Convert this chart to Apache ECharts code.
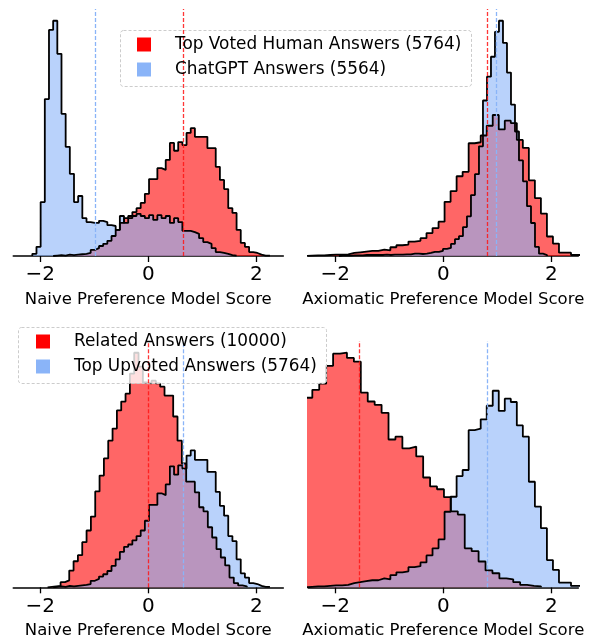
<!DOCTYPE html>
<html>
<head>
<meta charset="utf-8">
<title>Preference model scores</title>
<script src="https://cdn.jsdelivr.net/npm/echarts@6/dist/echarts.min.js"></script>
<style>
  html, body { margin: 0; padding: 0; background: #fff; }
  #chart { width: 590px; height: 639px; }
</style>
</head>
<body>
<div id="chart"></div>
<script>
// tick labels on every x axis
const xTicks = [-2, 0, 2];

// histogram counts per bin (50-ish bins each)
// bin start and width for each data set
const chatgptNaiveStart = -2.148, chatgptNaiveWidth = 0.0772;
const chatgptNaive = [5, 21, 124, 361, 520, 541, 465, 327, 251, 189, 124, 138, 87, 78, 76, 76, 81, 78, 71, 69,
  60, 92, 76, 87, 92, 97, 92, 87, 94, 83, 94, 87, 92, 76, 87, 78, 58, 58, 55, 51, 41, 32, 28, 18, 9, 7, 5, 2, 1];

const topNaiveStart = -1.762, topNaiveWidth = 0.0772;
const topNaive = [1, 2, 1, 3, 2, 3, 4, 5, 7, 14, 18, 23, 28, 35, 46, 60, 76, 87, 92, 101, 110, 122, 143, 177,
  177, 202, 198, 221, 260, 242, 262, 255, 283, 294, 274, 274, 274, 248, 248, 205, 175, 154, 110, 99,
  60, 30, 21, 9, 7, 3, 1, 1];

const relatedNaiveStart = -1.865, relatedNaiveWidth = 0.0802;
const relatedNaive = [1, 2, 3, 11, 15, 36, 56, 69, 97, 122, 152, 206, 240, 277, 315, 341, 380, 399, 416, 459,
  504, 474, 440, 438, 444, 438, 431, 412, 412, 367, 315, 266, 227, 227, 204, 172, 163, 129, 107, 82, 64, 47, 21, 9, 4, 2];

const topAxStart = -2.541, topAxWidth = 0.1115;
const topAx = [1, 2, 2, 3, 4, 4, 5, 9, 11, 13, 15, 15, 19, 17, 26, 32, 34, 43, 45, 53, 68, 83, 102, 161,
  193, 237, 250, 335, 338, 358, 387, 419, 376, 402, 395, 345, 321, 225, 172, 126, 58, 37, 10, 10, 3, 3];

const chatgptAxStart = -1.933, chatgptAxWidth = 0.0741;
const chatgptAx = [1, 1, 1, 2, 2, 2, 3, 3, 3, 3, 3, 4, 3, 4, 4, 4, 5, 5, 7, 7, 6, 7, 9, 12, 12, 15,
  21, 24, 36, 50, 59, 86, 118, 181, 243, 326, 462, 533, 592, 666, 699, 633, 545, 450, 370,
  284, 222, 148, 98, 27, 7, 3];

const relatedAxStart = -2.554, relatedAxWidth = 0.1283;
const relatedAx = [404, 421, 434, 472, 498, 500, 489, 481, 415, 396, 389, 372, 315, 321, 296, 300, 279, 234,
  215, 209, 192, 162, 155, 83, 77, 55, 36, 30, 19, 17, 11, 5, 3, 2];

// means (dashed lines)
const topNaiveMean = 0.65, chatgptNaiveMean = -0.99, relatedNaiveMean = -0.006;
const topAxMean = 0.815, chatgptAxMean = 0.98, relatedAxMean = -1.55;

const nameTop = 'Top Voted Human Answers (5764)';
const nameGpt = 'ChatGPT Answers (5564)';
const nameRel = 'Related Answers (10000)';
const nameUp = 'Top Upvoted Answers (5764)';

const RED = '#ff0000', BLUE = '#8ab4f8';
const FONT = 'DejaVu Sans';

// step outline of a histogram: baseline -> bins -> baseline
function histPoints(start, width, counts) {
  const pts = [[start, 0]];
  counts.forEach((c, i) => pts.push([start + i * width, c]));
  const end = start + counts.length * width;
  pts.push([end, counts[counts.length - 1]]);
  pts.push([end, 0]);
  return pts;
}

const panels = [
  { left: 13.3, top: 9, height: 247, xName: 'Naive Preference Model Score',
    red: [nameTop, topNaiveStart, topNaiveWidth, topNaive, topNaiveMean],
    blue: [nameGpt, chatgptNaiveStart, chatgptNaiveWidth, chatgptNaive, chatgptNaiveMean] },
  { left: 308.3, top: 9, height: 247, xName: 'Axiomatic Preference Model Score',
    red: [nameTop, topAxStart, topAxWidth, topAx, topAxMean],
    blue: [nameGpt, chatgptAxStart, chatgptAxWidth, chatgptAx, chatgptAxMean] },
  { left: 13.3, top: 341, height: 246.3, xName: 'Naive Preference Model Score',
    red: [nameRel, relatedNaiveStart, relatedNaiveWidth, relatedNaive, relatedNaiveMean],
    blue: [nameUp, topNaiveStart, topNaiveWidth, topNaive, topNaiveMean] },
  { left: 308.3, top: 341, height: 246.3, xName: 'Axiomatic Preference Model Score',
    red: [nameRel, relatedAxStart, relatedAxWidth, relatedAx, relatedAxMean],
    blue: [nameUp, topAxStart, topAxWidth, topAx, topAxMean] }
];

const grids = [], xAxes = [], yAxes = [], series = [];

panels.forEach((p, i) => {
  grids.push({ left: p.left, top: p.top, width: 270, height: p.height, outerBoundsMode: 'none' });
  xAxes.push({
    type: 'value', gridIndex: i, min: -2.5, max: 2.5,
    name: p.xName, nameLocation: 'middle', nameGap: 35,
    nameTextStyle: { fontFamily: FONT, fontSize: 16.5, color: '#000' },
    axisLine: { onZero: false, lineStyle: { color: '#000', width: 1.6 } },
    axisTick: { customValues: xTicks, length: 6, lineStyle: { color: '#000', width: 1.3 } },
    axisLabel: {
      customValues: xTicks, margin: 9, fontFamily: FONT, fontSize: 20, color: '#000',
      formatter: v => v < 0 ? '\u2212' + (-v) : String(v)
    },
    splitLine: { show: false }
  });
  const ymax = 1.05 * Math.max(...p.red[3], ...p.blue[3]);
  yAxes.push({ type: 'value', gridIndex: i, min: 0, max: ymax, show: false });

  [[p.red, RED, 'rgba(255,0,0,0.6)'], [p.blue, BLUE, 'rgba(138,180,248,0.6)']].forEach(([d, col, fill]) => {
    series.push({
      name: d[0], type: 'line', xAxisIndex: i, yAxisIndex: i,
      data: histPoints(d[1], d[2], d[3]),
      step: 'end', showSymbol: false, symbol: 'none', clip: true,
      itemStyle: { color: col },
      lineStyle: { color: '#000', width: 1.8 },
      areaStyle: { color: fill, opacity: 1, origin: 'start' },
      silent: true
    });
  });
  // mean lines, in their own series so they sit on top of both fills
  series.push({
    type: 'line', xAxisIndex: i, yAxisIndex: i, data: [], z: 5, silent: true,
    markLine: {
      silent: true, symbol: 'none', animation: false,
      label: { show: false },
      data: [
        { xAxis: p.red[4], lineStyle: { color: 'rgba(255,20,20,0.85)', type: [4, 2], width: 1.3 } },
        { xAxis: p.blue[4], lineStyle: { color: BLUE, type: [4, 2], width: 1.3 } }
      ]
    }
  });
});

function legendOf(left, top, names) {
  return {
    orient: 'vertical', left: left, top: top, padding: 0, z: 6,
    itemWidth: 14, itemHeight: 14, itemGap: 8, icon: 'rect',
    selectedMode: false,
    formatter: n => '{g| }' + n,
    textStyle: { fontFamily: FONT, fontSize: 16.9, color: '#000',
      rich: { g: { width: 19 } } },
    data: names.map((n, k) => ({ name: n, itemStyle: { color: k === 0 ? RED : BLUE, borderWidth: 0 } }))
  };
}

const chart = echarts.init(document.getElementById('chart'), null, { renderer: 'canvas' });
chart.setOption({
  animation: false,
  backgroundColor: '#fff',
  grid: grids, xAxis: xAxes, yAxis: yAxes, series: series,
  legend: [legendOf(137, 36, [nameTop, nameGpt]), legendOf(36, 333, [nameRel, nameUp])],
  graphic: [
    { type: 'rect', left: 120, top: 30, z: 5, shape: { width: 351, height: 56, r: 3 },
      style: { fill: 'rgba(255,255,255,0.8)', stroke: '#cccccc', lineWidth: 1, lineDash: [3, 2] } },
    { type: 'rect', left: 18, top: 327, z: 5, shape: { width: 308, height: 56, r: 3 },
      style: { fill: 'rgba(255,255,255,0.8)', stroke: '#cccccc', lineWidth: 1, lineDash: [3, 2] } }
  ]
});
</script>
</body>
</html>
